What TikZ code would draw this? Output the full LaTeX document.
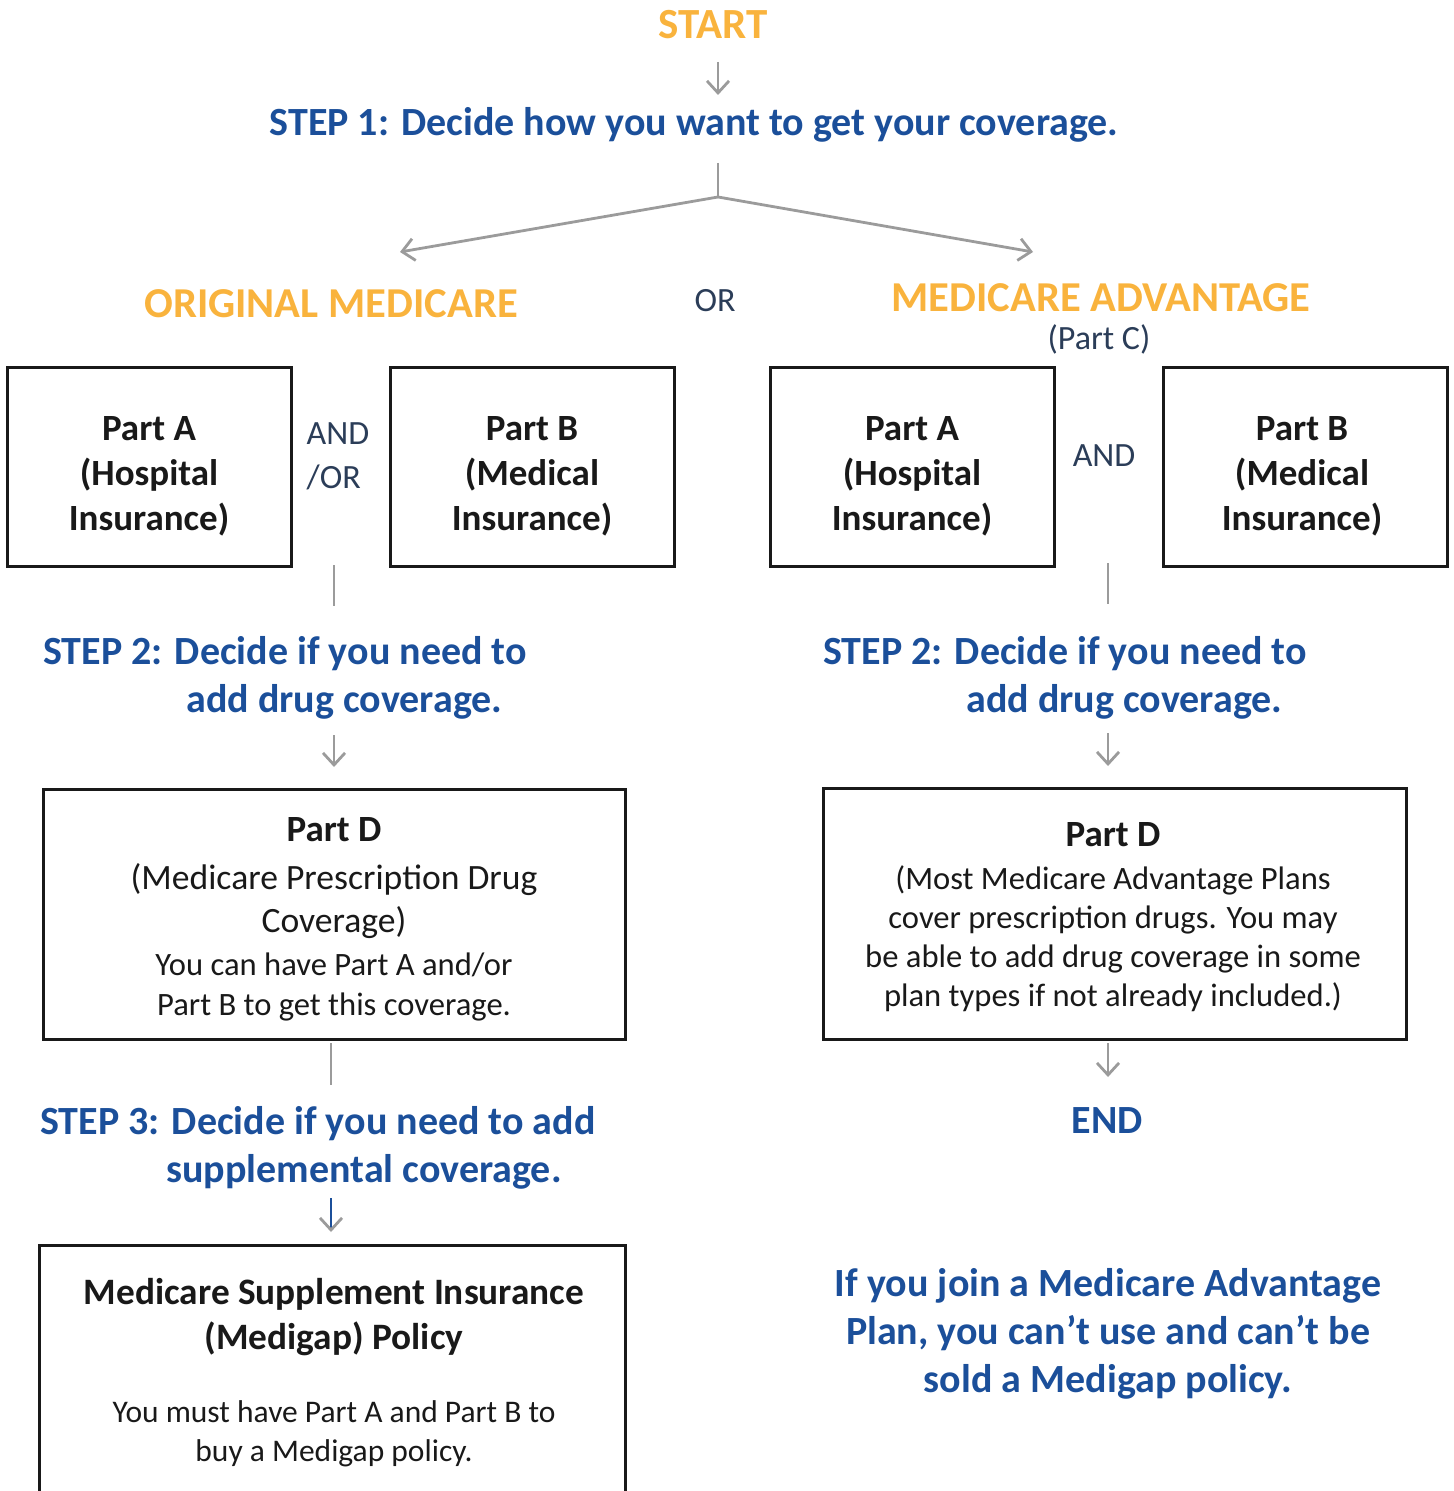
\documentclass[tikz,border=0pt]{standalone}
\usepackage{fontspec}
\setmainfont{Carlito}
\usetikzlibrary{arrows.meta}
\definecolor{orng}{HTML}{F9B33D}
\definecolor{blu}{HTML}{1B4F9A}
\definecolor{slate}{HTML}{2B3D58}
\definecolor{gry}{HTML}{9B9B9B}
\newcommand\myfs[2]{\fontsize{#1}{#2}\selectfont}
\begin{document}
\begin{tikzpicture}[x=0.5pt,y=-0.5pt,
  arr/.style={draw=gry,line width=1.4pt,-{Straight Barb[length=6pt,width=11pt,line width=1.4pt]}},
  ln/.style={draw=gry,line width=1.4pt},
  box/.style={draw=black!90,line width=1.5pt,inner sep=0pt},
  btext/.style={inner sep=0pt,align=center,text=black!90},
  hdr/.style={font=\myfs{21.3}{24}\bfseries,text=orng,inner sep=0pt},
  stp/.style={font=\myfs{20}{24}\bfseries,text=blu,inner sep=0pt,align=left},
  sl/.style={font=\myfs{17}{22},text=slate,inner sep=0pt},
  abox/.style={box,minimum width=142pt,minimum height=99pt},
  atext/.style={btext,font=\myfs{18.5}{22.5}\bfseries},
]
\useasboundingbox (0,0) rectangle (1453,1491);
\clip (0,0) rectangle (1453,1491);

% top
\node[hdr,font=\myfs{21.5}{24}\bfseries] (start) at (713,25) {START};
\node[stp] (step1) at (694,125) {STEP 1: Decide how you want to get your coverage.};
\coordinate (a1s) at (718,62); \coordinate (a1e) at (718,95);
\draw[arr] (a1s) -- (a1e);
\coordinate (fs) at (718,163); \coordinate (fm) at (718,197);
\coordinate (fl) at (400,252); \coordinate (fr) at (1033,252);
\draw[ln] (fs) -- (fm);
\draw[arr] (fm) -- (fl);
\draw[arr] (fm) -- (fr);

\node[hdr] (orig) at (331,304) {ORIGINAL MEDICARE};
\node[sl] (or) at (715,301) {OR};
\node[hdr] (adv) at (1101,298) {MEDICARE ADVANTAGE};
\node[sl] (partc) at (1099,339) {(Part C)};

% boxes row
\node[abox] (pal) at (149,467) {};
\node[abox] (pbl) at (532,467) {};
\node[abox] (par) at (912,467) {};
\node[abox] (pbr) at (1305,467) {};
\node[atext] (palt) at (149,476) {Part A\\(Hospital\\Insurance)};
\node[atext] (pblt) at (532,476) {Part B\\(Medical\\Insurance)};
\node[atext] (part) at (912,476) {Part A\\(Hospital\\Insurance)};
\node[atext] (pbrt) at (1302,476) {Part B\\(Medical\\Insurance)};
\node[sl,align=left] (andor) at (338,456) {AND\\/OR};
\node[sl] (and) at (1104,456) {AND};

% left column
\coordinate (l1s) at (334,565); \coordinate (l1e) at (334,606);
\draw[ln] (l1s) -- (l1e);
\node[stp,anchor=west] (step2l) at (43,678) {STEP 2: Decide if you need to\\\hspace*{71.5pt}add drug coverage.};
\coordinate (l2s) at (334,735); \coordinate (l2e) at (334,767);
\draw[arr] (l2s) -- (l2e);
\node[box,minimum width=291pt,minimum height=125pt] (pdl) at (334,914) {};
\node[btext,font=\myfs{17.8}{21.5}] (pdlt) at (334,919)
 {{\myfs{18.5}{22}\bfseries Part D}\\[2.5pt](Medicare Prescription Drug\\Coverage)\\{\myfs{16.3}{20}You can have Part A and/or}\\[-1.5pt]{\myfs{16.3}{20}Part B to get this coverage.}};
\coordinate (l3s) at (331,1043); \coordinate (l3e) at (331,1085);
\draw[ln] (l3s) -- (l3e);
\node[stp,anchor=west] (step3) at (40,1148) {STEP 3: Decide if you need to add\\\hspace*{63pt}supplemental coverage.};
\coordinate (l4s) at (331,1198); \coordinate (l4e) at (331,1232);
\draw[draw=blu,line width=1.2pt,-{Straight Barb[length=6pt,width=11pt,line width=1.4pt,color=gry]}] (l4s) -- (l4e);
\coordinate (mg1) at (39,1520); \coordinate (mg2) at (39,1245);
\coordinate (mg3) at (625,1245); \coordinate (mg4) at (625,1520);
\draw[draw=black!90,line width=1.5pt] (mg1) -- (mg2) -- (mg3) -- (mg4);
\node[btext,font=\myfs{15.75}{19.5}] (medigap) at (334,1373)
 {{\myfs{18.65}{22}\bfseries Medicare Supplement Insurance}\\[3pt]{\myfs{18.65}{22}\bfseries (Medigap) Policy}\\[17pt]You must have Part A and Part B to\\buy a Medigap policy.};

% right column
\coordinate (r1s) at (1108,563); \coordinate (r1e) at (1108,604);
\draw[ln] (r1s) -- (r1e);
\node[stp,anchor=west] (step2r) at (823,678) {STEP 2: Decide if you need to\\\hspace*{71.5pt}add drug coverage.};
\coordinate (r2s) at (1108,733); \coordinate (r2e) at (1108,766);
\draw[arr] (r2s) -- (r2e);
\node[box,minimum width=291.5pt,minimum height=125.5pt] (pdr) at (1114.5,913.5) {};
\node[btext,font=\myfs{16.3}{19.5}] (pdrt) at (1113,917.5)
 {{\myfs{18.5}{22}\bfseries Part D}\\[2pt](Most Medicare Advantage Plans\\cover prescription drugs. You may\\be able to add drug coverage in some\\plan types if not already included.)};
\coordinate (r3s) at (1108,1043); \coordinate (r3e) at (1108,1077);
\draw[arr] (r3s) -- (r3e);
\node[stp] (end) at (1107,1121) {END};
\node[stp,align=center,font=\myfs{20}{24}\bfseries] (note) at (1108,1334)
 {If you join a Medicare Advantage\\Plan, you can’t use and can’t be\\sold a Medigap policy.};
\end{tikzpicture}
\end{document}
